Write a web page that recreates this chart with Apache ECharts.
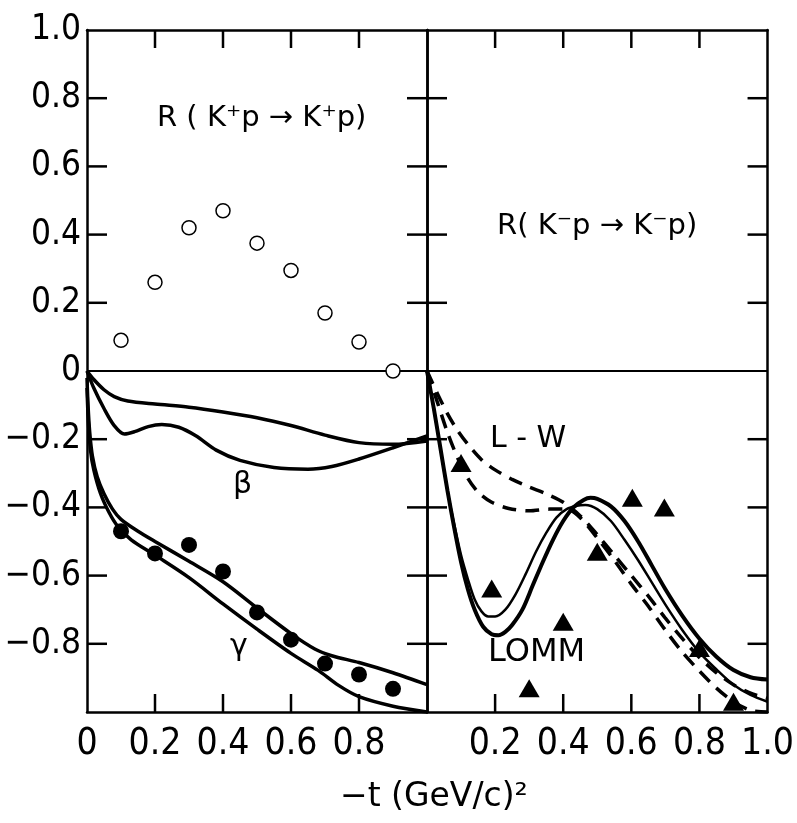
<!DOCTYPE html>
<html>
<head>
<meta charset="utf-8">
<script src="https://cdn.jsdelivr.net/npm/echarts@6/dist/echarts.min.js"></script>
<style>
  html, body { margin: 0; padding: 0; background: #fff; }
  #chart { width: 797px; height: 823px; }
</style>
</head>
<body>
<div id="chart"></div>
<script>
// ---- data ----
var tickX = [0.2, 0.4, 0.6, 0.8];
var tickY = [0.8, 0.6, 0.4, 0.2, -0.2, -0.4, -0.6, -0.8];

// left panel, R(K+p -> K+p)
var kpOpen = [[0.1, 0.09], [0.2, 0.26], [0.3, 0.42], [0.4, 0.47], [0.5, 0.375],
              [0.6, 0.295], [0.7, 0.17], [0.8, 0.085], [0.9, 0.0]];
var kpFilled = [[0.1, -0.47], [0.2, -0.535], [0.3, -0.51], [0.4, -0.588], [0.5, -0.708],
                [0.6, -0.788], [0.7, -0.858], [0.8, -0.89], [0.9, -0.932]];
var beta1 = [[0, 0], [0.02, -0.025], [0.05, -0.055], [0.08, -0.075], [0.12, -0.088], [0.2, -0.097],
             [0.3, -0.106], [0.4, -0.12], [0.5, -0.137], [0.6, -0.16], [0.7, -0.188], [0.8, -0.21],
             [0.9, -0.215], [1.0, -0.205]];
var beta2 = [[0, 0], [0.02, -0.05], [0.05, -0.11], [0.08, -0.16], [0.11, -0.185], [0.14, -0.178],
             [0.18, -0.163], [0.22, -0.157], [0.27, -0.165], [0.32, -0.19], [0.38, -0.232], [0.45, -0.262],
             [0.55, -0.283], [0.65, -0.288], [0.72, -0.28], [0.8, -0.258], [0.9, -0.225], [1.0, -0.19]];
var gamma1 = [[0, -0.02], [0.003, -0.1], [0.008, -0.18], [0.016, -0.25], [0.03, -0.31], [0.05, -0.36],
              [0.075, -0.405], [0.1, -0.435], [0.15, -0.47], [0.2, -0.5], [0.3, -0.558], [0.4, -0.618],
              [0.5, -0.695], [0.6, -0.77], [0.67, -0.815], [0.72, -0.835], [0.8, -0.855], [0.9, -0.885],
              [1.0, -0.92]];
var gamma2 = [[0, -0.05], [0.004, -0.15], [0.01, -0.23], [0.02, -0.29], [0.04, -0.36], [0.065, -0.415],
              [0.09, -0.455], [0.13, -0.495], [0.2, -0.54], [0.3, -0.606], [0.4, -0.683], [0.5, -0.757],
              [0.6, -0.828], [0.68, -0.878], [0.74, -0.922], [0.8, -0.955], [0.9, -0.983], [1.0, -1.0]];

// right panel, R(K-p -> K-p)
var kmTri = [[0.1, -0.27], [0.19, -0.638], [0.3, -0.93], [0.4, -0.735], [0.5, -0.53],
             [0.603, -0.372], [0.697, -0.4], [0.8, -0.812], [0.9, -0.97]];
var lommA = [[0, 0], [0.02, -0.11], [0.04, -0.23], [0.06, -0.35], [0.08, -0.46], [0.1, -0.56], [0.12, -0.64],
             [0.14, -0.7], [0.165, -0.75], [0.19, -0.772], [0.21, -0.775], [0.23, -0.765], [0.25, -0.745],
             [0.28, -0.7], [0.31, -0.63], [0.34, -0.56], [0.37, -0.495], [0.4, -0.44], [0.43, -0.4],
             [0.46, -0.378], [0.48, -0.372], [0.5, -0.375], [0.54, -0.397], [0.58, -0.44], [0.62, -0.5],
             [0.66, -0.57], [0.7, -0.64], [0.75, -0.718], [0.8, -0.785], [0.85, -0.838], [0.9, -0.877],
             [0.95, -0.898], [1.0, -0.905]];
var lommB = [[0, 0], [0.02, -0.11], [0.04, -0.23], [0.06, -0.35], [0.08, -0.45], [0.1, -0.54], [0.12, -0.61],
             [0.14, -0.67], [0.16, -0.705], [0.18, -0.72], [0.2, -0.72], [0.23, -0.7], [0.26, -0.655],
             [0.29, -0.595], [0.32, -0.53], [0.35, -0.475], [0.38, -0.43], [0.41, -0.405], [0.44, -0.395],
             [0.465, -0.393], [0.5, -0.405], [0.54, -0.44], [0.58, -0.495], [0.62, -0.555], [0.66, -0.62],
             [0.7, -0.685], [0.75, -0.76], [0.8, -0.825], [0.85, -0.875], [0.9, -0.92], [0.95, -0.95],
             [1.0, -0.97]];
var lw1 = [[0, 0], [0.03, -0.065], [0.06, -0.125], [0.09, -0.175], [0.12, -0.215], [0.16, -0.26], [0.2, -0.29],
           [0.25, -0.318], [0.3, -0.34], [0.35, -0.36], [0.4, -0.385], [0.45, -0.425], [0.5, -0.48],
           [0.55, -0.54], [0.6, -0.6], [0.65, -0.66], [0.7, -0.725], [0.75, -0.785], [0.8, -0.84],
           [0.85, -0.885], [0.9, -0.92], [0.95, -0.945], [1.0, -0.96]];
var lw2 = [[0, 0], [0.03, -0.09], [0.06, -0.18], [0.09, -0.255], [0.12, -0.315], [0.15, -0.355], [0.19, -0.385],
           [0.24, -0.403], [0.3, -0.41], [0.36, -0.405], [0.41, -0.405], [0.45, -0.43], [0.5, -0.49],
           [0.55, -0.555], [0.6, -0.625], [0.65, -0.69], [0.7, -0.76], [0.75, -0.825], [0.8, -0.88],
           [0.85, -0.93], [0.9, -0.97], [0.95, -0.995], [1.0, -1.0]];

var numFont = "'DejaVu Sans Condensed', 'DejaVu Sans', sans-serif";
var txtFont = "'DejaVu Sans', sans-serif";

function fmt(v) {
    if (Math.abs(v) < 1e-9) return '0';
    return (v < 0 ? '\u2212' : '') + Math.abs(v).toFixed(1);
}

function xAx(grid, pos, labels) {
    return {
        type: 'value', gridIndex: grid, position: pos, min: 0, max: 1, interval: 0.2,
        axisLine: { show: true, onZero: false, lineStyle: { color: '#000', width: 2.5 } },
        axisTick: { show: false },
        axisLabel: {
            show: !!labels, margin: 14, color: '#000', fontSize: 37, fontFamily: numFont,
            formatter: function (v) { return labels ? labels(v) : ''; }
        },
        splitLine: { show: false }
    };
}
function yAx(grid, pos, labels) {
    return {
        type: 'value', gridIndex: grid, position: pos, min: -1, max: 1, interval: 0.2,
        axisLine: { show: true, onZero: false, lineStyle: { color: '#000', width: 2.5 } },
        axisTick: { show: false },
        axisLabel: {
            show: !!labels, margin: 6, color: '#000', fontSize: 35, fontFamily: numFont,
            formatter: function (v) { return labels ? labels(v) : ''; }
        },
        splitLine: { show: false }
    };
}

// inward ticks on all four sides of a panel, placed through the axes
function ticks(gi) {
    var data = [];
    tickX.forEach(function (v) { data.push([v, 0, 0]); });
    tickY.forEach(function (v) { data.push([0, v, 1]); });
    return {
        type: 'custom', xAxisIndex: gi, yAxisIndex: gi, data: data, silent: true, z: 3,
        renderItem: function (params, api) {
            var st = { stroke: '#000', lineWidth: 2.5 };
            if (api.value(2) === 0) {
                var b = api.coord([api.value(0), -1]), t = api.coord([api.value(0), 1]);
                return { type: 'group', children: [
                    { type: 'line', shape: { x1: b[0], y1: b[1], x2: b[0], y2: b[1] - 18 }, style: st },
                    { type: 'line', shape: { x1: t[0], y1: t[1], x2: t[0], y2: t[1] + 18 }, style: st }
                ] };
            }
            var l = api.coord([0, api.value(1)]), r = api.coord([1, api.value(1)]);
            return { type: 'group', children: [
                { type: 'line', shape: { x1: l[0], y1: l[1], x2: l[0] + 20, y2: l[1] }, style: st },
                { type: 'line', shape: { x1: r[0], y1: r[1], x2: r[0] - 20, y2: r[1] }, style: st }
            ] };
        }
    };
}

function curve(data, xi, w, dashed) {
    return {
        type: 'line', xAxisIndex: xi, yAxisIndex: xi, data: data, smooth: 0.3,
        showSymbol: false, silent: true,
        lineStyle: { color: '#000', width: w, type: dashed ? [14, 9] : 'solid', opacity: 1 }
    };
}

var chart = echarts.init(document.getElementById('chart'));
var option = {
    animation: false,
    backgroundColor: '#fff',
    grid: [
        { left: 87, top: 30, width: 340, height: 682 },
        { left: 427, top: 30, width: 344, height: 682 }
    ],
    xAxis: [
        xAx(0, 'bottom', function (v) { return v > 0.99 ? '' : fmt(v); }),
        xAx(1, 'bottom', function (v) { return v < 0.01 ? '' : fmt(v); }),
        xAx(0, 'top', null),
        xAx(1, 'top', null)
    ],
    yAxis: [
        yAx(0, 'left', function (v) { return v < -0.99 ? '' : fmt(v); }),
        yAx(1, 'left', null),
        yAx(0, 'right', null),
        yAx(1, 'right', null)
    ],
    series: [
        {
            type: 'line', xAxisIndex: 0, yAxisIndex: 0, data: [], silent: true,
            markLine: { symbol: 'none', silent: true, label: { show: false },
                lineStyle: { color: '#000', width: 2, type: 'solid' }, data: [{ yAxis: 0 }] }
        },
        {
            type: 'line', xAxisIndex: 1, yAxisIndex: 1, data: [], silent: true,
            markLine: { symbol: 'none', silent: true, label: { show: false },
                lineStyle: { color: '#000', width: 2, type: 'solid' }, data: [{ yAxis: 0 }] }
        },
        ticks(0),
        ticks(1),
        curve(beta1, 0, 3.5),
        curve(beta2, 0, 3.5),
        curve(gamma1, 0, 3.5),
        curve(gamma2, 0, 3.5),
        curve(lommA, 1, 4),
        curve(lommB, 1, 2.5),
        curve(lw1, 1, 3.5, true),
        curve(lw2, 1, 3.5, true),
        {
            type: 'scatter', xAxisIndex: 0, yAxisIndex: 0, data: kpOpen, symbol: 'circle', symbolSize: 14,
            itemStyle: { color: '#fff', borderColor: '#000', borderWidth: 1.5, opacity: 1 }, silent: true, z: 5
        },
        {
            type: 'scatter', xAxisIndex: 0, yAxisIndex: 0, data: kpFilled, symbol: 'circle', symbolSize: 16,
            itemStyle: { color: '#000', opacity: 1 }, silent: true, z: 5
        },
        {
            type: 'scatter', xAxisIndex: 1, yAxisIndex: 1, data: kmTri, symbol: 'triangle', symbolSize: [21, 18],
            itemStyle: { color: '#000', opacity: 1 }, silent: true, z: 5
        }
    ],
    graphic: [
        { type: 'text', left: 157, top: 104, style: { text: 'R ( K\u207Ap \u2192 K\u207Ap)', font: '29px ' + txtFont, fill: '#000' } },
        { type: 'text', left: 497, top: 212, style: { text: 'R( K\u207Bp \u2192 K\u207Bp)', font: '29px ' + txtFont, fill: '#000' } },
        { type: 'text', left: 233, top: 470, style: { text: '\u03B2', font: '30px ' + txtFont, fill: '#000' } },
        { type: 'text', left: 230, top: 632, style: { text: '\u03B3', font: '30px ' + txtFont, fill: '#000' } },
        { type: 'text', left: 490, top: 424, style: { text: 'L - W', font: '30px ' + txtFont, fill: '#000' } },
        { type: 'text', left: 488, top: 637, style: { text: 'LOMM', font: '32px ' + txtFont, fill: '#000' } },
        { type: 'text', left: 340, top: 781, style: { text: '\u2212t (GeV/c)\u00B2', font: '33px ' + txtFont, fill: '#000' } }
    ]
};
chart.setOption(option);
</script>
</body>
</html>
